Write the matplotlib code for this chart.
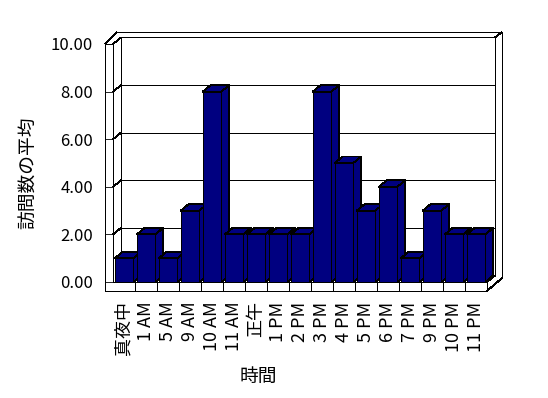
import matplotlib
matplotlib.use("Agg")
import matplotlib.pyplot as plt
from matplotlib.patches import Polygon

plt.rcParams['font.family'] = ['Noto Sans CJK JP', 'DejaVu Sans']
plt.rcParams['lines.antialiased'] = False
plt.rcParams['patch.antialiased'] = False

hours = ["真夜中", "1 AM", "5 AM", "9 AM", "10 AM", "11 AM", "正午", "1 PM", "2 PM",
         "3 PM", "4 PM", "5 PM", "6 PM", "7 PM", "9 PM", "10 PM", "11 PM"]
avg_visits = [1, 2, 1, 3, 8, 2, 2, 2, 2, 8, 5, 3, 4, 1, 3, 2, 2]
y_ticks = [0, 2, 4, 6, 8, 10]
y_max = 10

BAR = "#000080"
LW = 0.6

# figure + front plane in pixels (category 0..n, value 0..y_max)
W, H = 548, 398
X0, X1 = 113, 487
Y0, Y1 = 282, 44
n = len(hours)
sx = (X1 - X0) / n
sy = (Y0 - Y1) / y_max

fig = plt.figure(figsize=(W / 100, H / 100), dpi=100)
ax = fig.add_axes([X0 / W, 1 - Y0 / H, (X1 - X0) / W, (Y0 - Y1) / H])
ax.set_xlim(0, n)
ax.set_ylim(0, y_max)
for s in ax.spines.values():
    s.set_visible(False)


def d(px, py):
    """pixel offset (right, up) -> data offset"""
    return px / sx, py / sy


def line(xs, ys, z=1):
    ax.plot(xs, ys, color="black", lw=LW, clip_on=False, zorder=z,
            solid_capstyle="butt")


# depth offsets: inner back wall, outer back wall, wall/floor thickness
ix, iy = d(8, 6.5)
ox, oy = d(15, 13)
wx, _ = d(8, 0)
_, fy = d(0, 9)
tx, ty = d(12, 12)

# back wall (inner face) + gridlines
line([ix, n + ix, n + ix], [y_max + iy, y_max + iy, iy])
line([ix, ix], [iy, y_max + iy])
line([ix, n + ix], [iy, iy])
for v in y_ticks[1:-1]:
    line([ix, n + ix], [v + iy, v + iy])
    line([0, ix], [v, v + iy])

# back wall outer edge
line([-wx + tx, n + ox, n + ox], [y_max + ty, y_max + ty, -fy + oy])
line([n + ix, n + ox], [y_max + iy, y_max + ty])

# left wall
line([-wx, -wx], [-fy, y_max])
line([0, 0], [0, y_max])
line([-wx, 0], [y_max, y_max])
line([0, ix], [y_max, y_max + iy])
line([-wx, -wx + tx], [y_max, y_max + ty])

# floor
line([0, n], [0, 0])
line([-wx, n], [-fy, -fy])
for k in range(1, n + 1):
    line([k, k], [-fy, 0])
line([n, n + ix], [0, iy])
line([n, n + ox], [-fy, -fy + oy])

# 3d bars, left to right so the next front face hides the previous side
bx, by = d(8, 6.5)
for i, v in enumerate(avg_visits):
    l, r = i + 0.08, i + 0.92
    side = [(r, 0), (r + bx, by), (r + bx, v + by), (r, v)]
    top = [(l, v), (r, v), (r + bx, v + by), (l + bx, v + by)]
    front = [(l, 0), (r, 0), (r, v), (l, v)]
    for pts in (side, top, front):
        ax.add_patch(Polygon(pts, closed=True, facecolor=BAR, edgecolor="black",
                             lw=LW, clip_on=False, zorder=3))

ax.set_yticks(y_ticks)
ax.set_yticklabels([f"{v:.2f}" for v in y_ticks])
ax.tick_params(axis="y", direction="out", length=5.8, width=LW, pad=8.5,
               labelsize=12)
ax.set_xticks([i + 0.5 for i in range(n)])
ax.set_xticklabels(hours, rotation=90)
ax.tick_params(axis="x", length=0, pad=14, labelsize=13)

fig.text(28.5 / W, 1 - 173 / H, "訪問数の平均", rotation=90, ha="center",
         va="center", fontsize=13.5)
fig.text(258 / W, 1 - 376 / H, "時間", ha="center", va="center", fontsize=13.5)

fig.savefig("out.png", dpi=100)
